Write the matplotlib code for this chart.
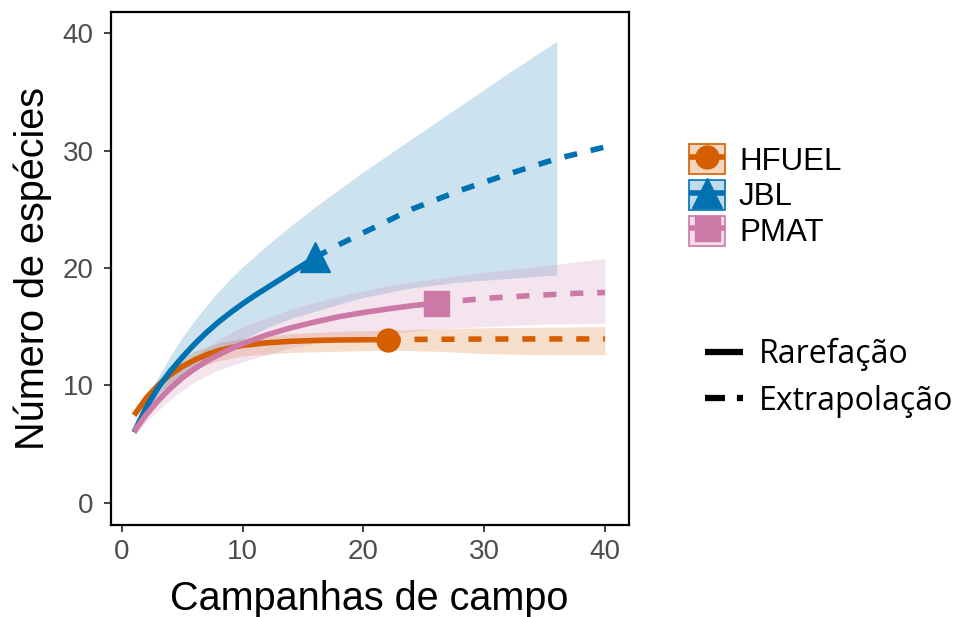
import matplotlib
matplotlib.use("Agg")
import matplotlib.pyplot as plt
from matplotlib.lines import Line2D
from matplotlib.patches import Patch
from matplotlib.legend_handler import HandlerTuple

plt.rcParams['font.family'] = ['Liberation Sans', 'DejaVu Sans']

# HFUEL
hf_rx = [1, 2, 3, 4, 5, 6, 7, 8, 9, 10, 12, 14, 16, 18, 20, 22]
hf_ry = [7.45, 8.9, 10.0, 10.9, 11.6, 12.15, 12.6, 12.95, 13.2, 13.4, 13.62, 13.75, 13.82, 13.86, 13.88, 13.9]
hf_ex = [22, 26, 30, 34, 38, 40]
hf_ey = [13.9, 13.92, 13.94, 13.95, 13.95, 13.95]
hf_cx = [1, 2, 4, 6, 8, 10, 14, 18, 22, 26, 30, 35, 40]
hf_lo = [7.1, 8.4, 10.2, 11.4, 12.1, 12.5, 12.8, 12.9, 13.0, 12.9, 12.7, 12.6, 12.6]
hf_hi = [7.8, 9.4, 11.6, 12.9, 13.6, 14.0, 14.4, 14.6, 14.7, 14.8, 14.9, 14.95, 15.0]

# JBL
jb_rx = [1, 2, 3, 4, 5, 6, 7, 8, 9, 10, 11, 12, 13, 14, 15, 16]
jb_ry = [6.0, 8.1, 9.8, 11.2, 12.4, 13.5, 14.5, 15.4, 16.2, 16.95, 17.65, 18.3, 18.95, 19.6, 20.25, 20.9]
jb_ex = [16, 18, 20, 24, 28, 32, 36, 40]
jb_ey = [20.9, 22.0, 23.0, 25.0, 26.6, 28.0, 29.3, 30.3]
jb_cx = [1, 2, 3, 4, 5, 6, 7, 8, 9, 10, 12, 14, 16, 20, 24, 28, 32, 36]
jb_lo = [5.9, 7.3, 8.5, 9.5, 10.4, 11.2, 12.0, 12.7, 13.3, 13.9, 14.9, 15.7, 16.3, 17.5, 18.3, 18.8, 19.1, 19.4]
jb_hi = [6.1, 8.6, 10.7, 12.5, 14.1, 15.5, 16.8, 18.0, 19.1, 20.1, 21.9, 23.6, 25.2, 28.2, 31.0, 33.8, 36.6, 39.3]

# PMAT
pm_rx = [1, 2, 3, 4, 5, 6, 7, 8, 9, 10, 12, 14, 16, 18, 20, 22, 24, 26]
pm_ry = [6.05, 7.5, 8.7, 9.75, 10.65, 11.4, 12.05, 12.6, 13.1, 13.55, 14.3, 14.9, 15.4, 15.85, 16.2, 16.5, 16.78, 17.0]
pm_ex = [26, 28, 30, 34, 38, 40]
pm_ey = [17.0, 17.2, 17.4, 17.65, 17.85, 17.9]
pm_cx = [1, 2, 4, 6, 8, 10, 14, 18, 22, 26, 30, 35, 40]
pm_lo = [5.7, 6.9, 8.8, 10.3, 11.3, 12.0, 13.2, 13.9, 14.4, 14.8, 15.0, 15.2, 15.3]
pm_hi = [6.3, 8.1, 10.6, 12.5, 13.9, 15.0, 16.5, 17.6, 18.5, 19.1, 19.6, 20.2, 20.8]

sites = ['HFUEL', 'JBL', 'PMAT']
methods = ['Rarefação', 'Extrapolação']
colors = ['#D55E00', '#0072B2', '#CC79A7']
markers = ['o', '^', 's']
msizes = [16.5, 21, 18]

series = [
    (hf_rx, hf_ry, hf_ex, hf_ey, hf_cx, hf_lo, hf_hi),
    (jb_rx, jb_ry, jb_ex, jb_ey, jb_cx, jb_lo, jb_hi),
    (pm_rx, pm_ry, pm_ex, pm_ey, pm_cx, pm_lo, pm_hi),
]

fig = plt.figure(figsize=(9.62, 6.17), dpi=100)
ax = fig.add_axes([110.5 / 962, 1 - 525 / 617, 518 / 962, 513 / 617])

# ribbons first, lines on top
for s, c in zip(series, colors):
    ax.fill_between(s[4], s[5], s[6], color=c, alpha=0.2, lw=0)

lw = 4
for s, c, m, ms in zip(series, colors, markers, msizes):
    ax.plot(s[0], s[1], color=c, lw=lw, solid_capstyle='butt', solid_joinstyle='round')
    ax.plot(s[2], s[3], color=c, lw=lw, dashes=(2.35, 2.5))
    ax.plot(s[0][-1], s[1][-1], marker=m, color=c, ms=ms, ls='none')

ax.set_xlim(-0.95, 41.95)
ax.set_ylim(-1.9, 41.8)
ax.set_xticks([0, 10, 20, 30, 40])
ax.set_yticks([0, 10, 20, 30, 40])
ax.tick_params(direction='out', length=5, width=1.3, color='#333333',
               labelsize=20, labelcolor='#4D4D4D')
ax.tick_params(axis='y', pad=7)
ax.tick_params(axis='x', pad=5)
for sp in ax.spines.values():
    sp.set_linewidth(1.6)
    sp.set_color('black')

ax.set_xlabel('Campanhas de campo', fontsize=28.5, labelpad=11)
ax.set_ylabel('Número de espécies', fontsize=28.5, labelpad=8)

# legend for sites (ribbon box + line + marker)
handles = []
for c, m, ms in zip(colors, markers, msizes):
    box = Patch(facecolor=matplotlib.colors.to_rgba(c, 0.25), edgecolor=c, lw=1.2)
    ln = Line2D([], [], color=c, lw=lw, marker=m, ms=ms, solid_capstyle='butt')
    handles.append((box, ln))
fig.legend(handles, sites, loc='upper left',
           bbox_to_anchor=(689 / 962, 1 - 144 / 617),
           frameon=False, borderpad=0, borderaxespad=0,
           handlelength=1.15, handleheight=1.1, labelspacing=0.1,
           handletextpad=0.45, prop={'size': 22.5},
           handler_map={tuple: HandlerTuple(ndivide=1)})

# legend for method
h2 = [Line2D([], [], color='black', lw=4.5, solid_capstyle='butt'),
      Line2D([], [], color='black', lw=4.5, dashes=(3.2, 1.9, 1.0, 4.0))]
fig.legend(h2, methods, loc='upper left',
           bbox_to_anchor=(705 / 962, 1 - 338 / 617),
           frameon=False, borderpad=0, borderaxespad=0,
           handlelength=1.2, labelspacing=0.42, handletextpad=0.5,
           prop={'family': ['Open Sans', 'DejaVu Sans'], 'size': 23})

fig.savefig('out.png', dpi=100)
